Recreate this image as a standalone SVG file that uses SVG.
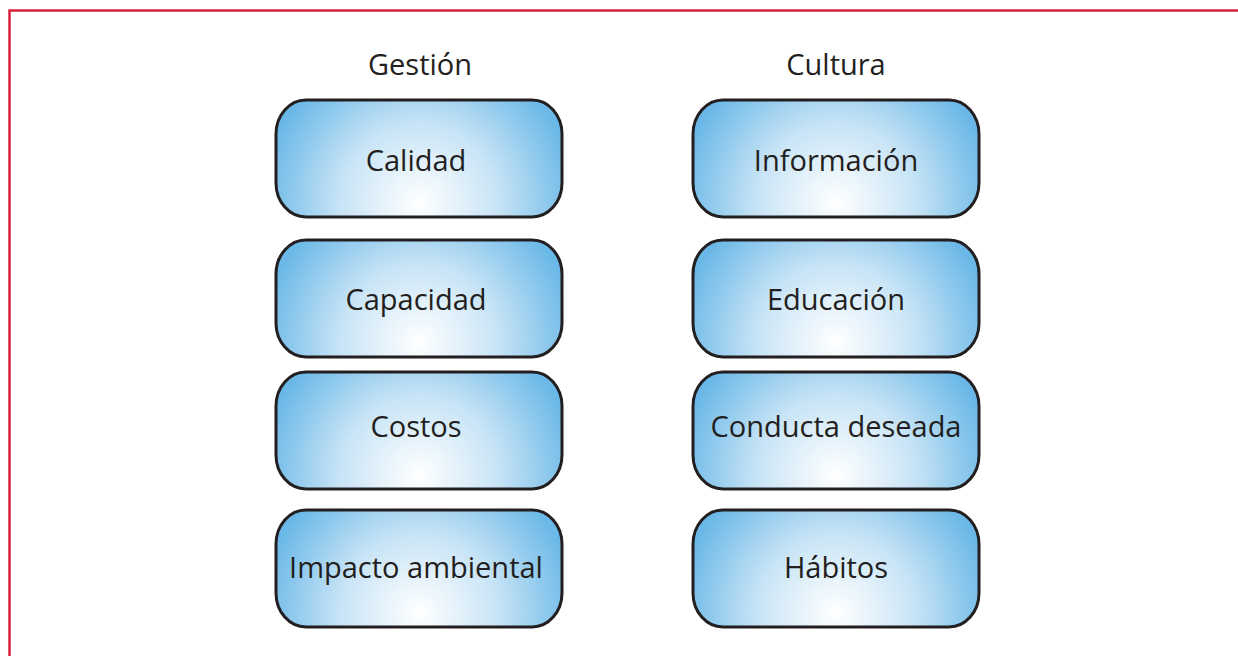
<svg xmlns="http://www.w3.org/2000/svg" width="1238" height="656" viewBox="0 0 1238 656">
<defs>
<radialGradient id="g" cx="0.5" cy="0.88" r="0.55" fx="0.5" fy="0.88" gradientTransform="translate(0.5 0.88) scale(1 2.44) translate(-0.5 -0.88)">
<stop offset="0" stop-color="#ffffff"/>
<stop offset="0.5" stop-color="#c8e4f6"/>
<stop offset="1" stop-color="#6ab8e7"/>
</radialGradient>
<style>
.box{fill:url(#g);stroke:#231f20;stroke-width:3}
.t{font-family:"Open Sans","Noto Sans",sans-serif;font-size:29px;fill:#231f20;text-anchor:middle}
</style>
</defs>
<rect width="1238" height="656" fill="#fff"/>
<path d="M9.5 656 V10.5 H1238" fill="none" stroke="#d71f3c" stroke-width="2.5"/>
<text class="t" x="420" y="75">Gestión</text>
<text class="t" x="836" y="75">Cultura</text>
<g id="n1"><rect class="box" x="276" y="100" width="286" height="117" rx="30" ry="34"/><text class="t" x="416" y="171">Calidad</text></g>
<g id="n2"><rect class="box" x="276" y="240" width="286" height="117" rx="30" ry="34"/><text class="t" x="416" y="310">Capacidad</text></g>
<g id="n3"><rect class="box" x="276" y="372" width="286" height="117" rx="30" ry="34"/><text class="t" x="416" y="437">Costos</text></g>
<g id="n4"><rect class="box" x="276" y="510" width="286" height="117" rx="30" ry="34"/><text class="t" x="416" y="578">Impacto ambiental</text></g>
<g id="n5"><rect class="box" x="693" y="100" width="286" height="117" rx="30" ry="34"/><text class="t" x="836" y="171">Información</text></g>
<g id="n6"><rect class="box" x="693" y="240" width="286" height="117" rx="30" ry="34"/><text class="t" x="836" y="310">Educación</text></g>
<g id="n7"><rect class="box" x="693" y="372" width="286" height="117" rx="30" ry="34"/><text class="t" x="836" y="437">Conducta deseada</text></g>
<g id="n8"><rect class="box" x="693" y="510" width="286" height="117" rx="30" ry="34"/><text class="t" x="836" y="578">Hábitos</text></g>
<g id="connectors"></g>
</svg>
